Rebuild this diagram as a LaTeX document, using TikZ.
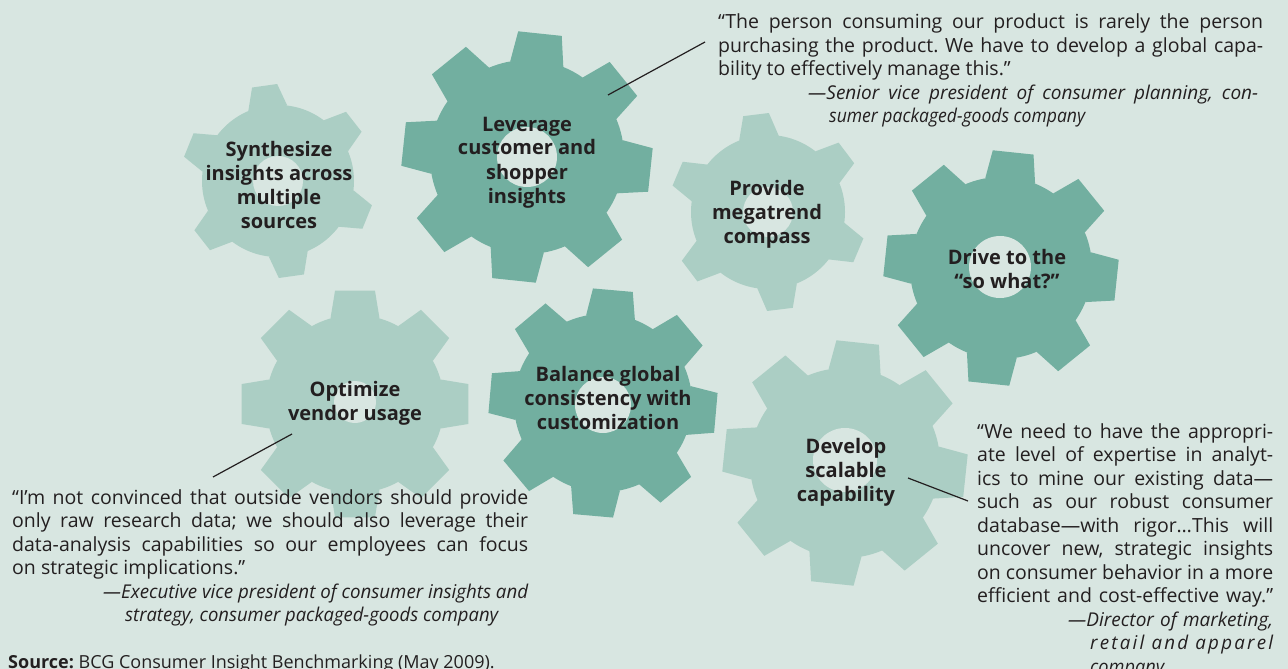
\documentclass[tikz,border=0pt]{standalone}
\usepackage{fontspec}
\usepackage{graphicx}
\setmainfont{Open Sans}
\frenchspacing

\definecolor{bg}{RGB}{216,230,225}
\definecolor{gearlight}{RGB}{171,206,196}
\definecolor{geardark}{RGB}{114,175,160}
\definecolor{ink}{RGB}{35,31,32}

% one justified line of a quotation: stretched to #1, or squeezed if too long
\newsavebox\jlinebox
\newcommand\jline[2]{\sbox\jlinebox{#2}%
  \ifdim\wd\jlinebox>#1\relax\resizebox{#1}{\height}{\usebox\jlinebox}%
  \else\makebox[#1][s]{#2}\fi}
% attribution lines
\newcommand\attr{\fontsize{19}{23.5}\selectfont\itshape}

% gear: colour, cx, cy, tip radius, root radius, teeth, first tooth angle,
% tip half-angle, root half-angle
\newcommand\drawgear[9]{%
  \begin{scope}[shift={(#2,#3)}]
    \fill[#1] (0,0) circle[radius=#5];
    \foreach \k in {1,...,#6}{%
      \pgfmathsetmacro\ta{-(#7)-(\k-1)*360/#6}%
      \fill[#1] ({\ta-#9}:#5) -- ({\ta-#8}:#4) -- ({\ta+#8}:#4) -- ({\ta+#9}:#5) -- cycle;
    }
  \end{scope}}

\begin{document}
\begin{tikzpicture}[x=1pt,y=-1pt,
  glabel/.style={anchor=base,inner sep=0pt,text=ink,
    font=\fontsize{20}{24}\selectfont\bfseries},
  quote/.style={anchor=base west,inner sep=0pt,text=ink,
    font=\fontsize{19.5}{23.5}\selectfont},
  conn/.style={draw=ink,line width=1.2pt},
  hole/.style={fill=bg}]

\useasboundingbox (0,0) rectangle (1288,669);
\fill[bg] (0,0) rectangle (1288,669);

% gears
\drawgear{gearlight}{278}{181}{97}{76}{6}{98}{7.5}{15}
\fill[hole] (278,181) circle[radius=25];

\drawgear{geardark}{527}{157}{126}{97}{8}{84}{10}{16}
\fill[hole] (527,157) circle[radius=30];

\drawgear{gearlight}{768}{212}{99}{77}{6}{97}{7.5}{15}
\fill[hole] (768,212) circle[radius=25];

\drawgear{geardark}{1001}{268}{118}{91}{8}{84}{10}{16}
\fill[hole] (1000,267) circle[radius=31];

\drawgear{gearlight}{355}{404}{115}{89}{8}{90}{10}{16}
\fill[hole] (355,402) circle[radius=21];

\drawgear{geardark}{603}{403}{115}{89}{8}{85}{10}{16}
\fill[hole] (603,405) circle[radius=28];

\drawgear{gearlight}{845}{463}{123}{95}{8}{84}{10}{16}
\fill[hole] (845,460) circle[radius=32];

% gear labels
\node[glabel] (synth) at (279,156) {\parbox[t]{220pt}{\centering Synthesize\\insights across\\multiple\\sources}};
\node[glabel] (leverage) at (527,131) {\parbox[t]{220pt}{\centering Leverage\\customer and\\shopper\\insights}};
\node[glabel] (provide) at (767,195) {\parbox[t]{220pt}{\centering Provide\\megatrend\\compass}};
\node[glabel] (drive) at (1007,264) {\parbox[t]{220pt}{\centering Drive to the\\“so what?”}};
\node[glabel] (optimize) at (355,396) {\parbox[t]{220pt}{\centering Optimize\\vendor usage}};
\node[glabel] (balance) at (608,381) {\parbox[t]{220pt}{\centering Balance global\\consistency with\\customization}};
\node[glabel] (develop) at (846,453) {\parbox[t]{220pt}{\centering Develop\\scalable\\capability}};

% quotations
\node[quote] (qtop) at (718,29) {\parbox[t]{560pt}{%
\jline{545pt}{“The person consuming our product is rarely the person}\\
\jline{545pt}{purchasing the product. We have to develop a global capa-}\\
bility to effectively manage this.”\\
\hspace*{90pt}\jline{450pt}{\attr —Senior vice president of consumer planning, con-}\\
\hspace*{111pt}\jline{256pt}{\attr sumer packaged-goods company}}};

\node[quote] (qleft) at (12,504) {\parbox[t]{530pt}{%
\jline{516pt}{“I’m not convinced that outside vendors should provide}\\
\jline{516pt}{only raw research data; we should also leverage their}\\
\jline{516pt}{data-analysis capabilities so our employees can focus}\\
on strategic implications.”\\
\hspace*{91pt}\jline{425pt}{\attr —Executive vice president of consumer insights and}\\
\hspace*{113pt}\jline{373pt}{\attr strategy, consumer packaged-goods company}}};

\node[quote] (qright) at (977,438) {\parbox[t]{300pt}{%
\jline{296pt}{“We need to have the appropri-}\\
\jline{296pt}{ate level of expertise in analyt-}\\
\jline{296pt}{ics to mine our existing data—}\\
\jline{296pt}{such as our robust consumer}\\
\jline{296pt}{database—with rigor…This will}\\
\jline{296pt}{uncover new, strategic insights}\\
\jline{296pt}{on consumer behavior in a more}\\
\jline{296pt}{efficient and cost-effective way.”}\\
\hspace*{91pt}\jline{205pt}{\attr —Director of marketing,}\\
\hspace*{113pt}\jline{183pt}{\attr\addfontfeature{LetterSpace=12}retail and apparel}\\
\hspace*{113pt}\jline{74pt}{\attr company}}};

\node[quote,font=\fontsize{18}{22}\selectfont] (source) at (8,668)
  {\textbf{Source:} BCG Consumer Insight Benchmarking (May 2009).};

% leader lines from gears to quotations
\coordinate (levpt) at (608,95);
\coordinate (qtoppt) at (705,42);
\coordinate (optpt) at (292,434);
\coordinate (qleftpt) at (213,477);
\coordinate (devpt) at (908,478);
\coordinate (qrightpt) at (968,501);
\draw[conn] (levpt) -- (qtoppt);
\draw[conn] (optpt) -- (qleftpt);
\draw[conn] (devpt) -- (qrightpt);
\end{tikzpicture}
\end{document}
